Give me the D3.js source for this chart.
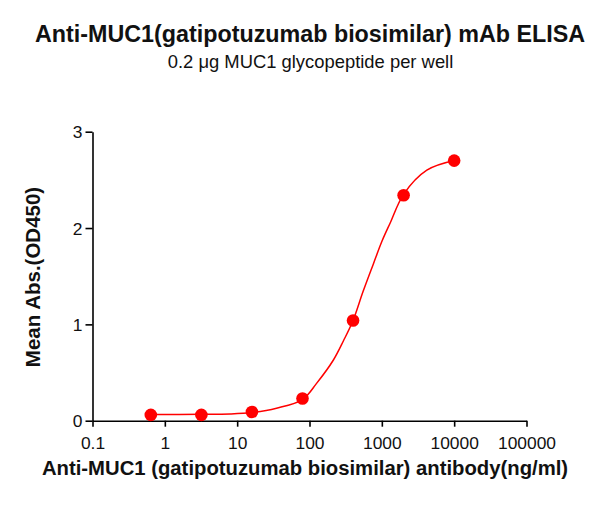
<!DOCTYPE html>
<html><head><meta charset="utf-8">
<script src="https://cdn.jsdelivr.net/npm/d3@7"></script>
<style>body{margin:0;background:#fff;} svg{display:block;} text{font-family:Arial,"Liberation Sans",sans-serif;}</style>
</head><body>
<svg id="c" width="608" height="505"></svg>
<script>
const concentrations = [0.64, 3.2, 16, 80, 400, 2000, 10000];
const meanAbs = [0.06, 0.06, 0.09, 0.23, 1.04, 2.34, 2.70];
// fitted curve
const curveX = [0.64, 3.2, 8, 16, 35, 80, 126, 214, 295, 400, 550, 766, 1000, 1300, 2000, 4190, 10000];
const curveY = [0.065, 0.066, 0.07, 0.085, 0.13, 0.22, 0.39, 0.63, 0.83, 1.04, 1.34, 1.63, 1.86, 2.05, 2.35, 2.60, 2.70];
const xTicks = [0.1, 1, 10, 100, 1000, 10000, 100000];
const xTickLabels = ["0.1", "1", "10", "100", "1000", "10000", "100000"];
const yTicks = [0, 1, 2, 3];

const svg = d3.select("#c");
const x = d3.scaleLog().domain([0.1, 100000]).range([92.5, 526.5]);
const y = d3.scaleLinear().domain([0, 3]).range([420.7, 131.7]);

// axes
const xa = svg.append("g").attr("transform", "translate(0,420.7)")
  .call(d3.axisBottom(x).tickValues(xTicks).tickFormat((d,i)=>xTickLabels[i]).tickSizeInner(6).tickSizeOuter(0).tickPadding(10));
const ya = svg.append("g").attr("transform", "translate(92.5,0)")
  .call(d3.axisLeft(y).tickValues(yTicks).tickFormat(d3.format("d")).tickSizeInner(7).tickSizeOuter(0).tickPadding(3));
[xa, ya].forEach(g => {
  g.select(".domain").attr("stroke", "#000").attr("stroke-width", 1.6);
  g.selectAll(".tick line").attr("stroke", "#000").attr("stroke-width", 1.6);
  g.selectAll(".tick text").attr("fill", "#111").style("font-size", "17.4px").style("font-family", "Arial, 'Liberation Sans', sans-serif");
});
ya.selectAll(".tick text").attr("dy", "0.36em");

// curve
const pts = curveX.map((c,i)=>[c, curveY[i]]);
svg.append("path").datum(pts)
  .attr("fill", "none").attr("stroke", "#ff0000").attr("stroke-width", 1.5)
  .attr("d", d3.line().x(d=>x(d[0])).y(d=>y(d[1])).curve(d3.curveCatmullRom.alpha(0.5)));

// points
svg.append("g").selectAll("circle").data(concentrations).join("circle")
  .attr("cx", d=>x(d)).attr("cy", (d,i)=>y(meanAbs[i])).attr("r", 6.3).attr("fill", "#ff0000");

// titles
svg.append("text").attr("x", 310).attr("y", 42).attr("text-anchor", "middle")
  .style("font-size", "23.3px").style("font-weight", "bold").attr("fill", "#111")
  .text("Anti-MUC1(gatipotuzumab biosimilar) mAb ELISA");
svg.append("text").attr("x", 310.5).attr("y", 68).attr("text-anchor", "middle")
  .style("font-size", "18.4px").attr("fill", "#111")
  .text("0.2 \u03bcg MUC1 glycopeptide per well");
svg.append("text").attr("x", 305).attr("y", 475).attr("text-anchor", "middle")
  .style("font-size", "20.3px").style("font-weight", "bold").attr("fill", "#111")
  .text("Anti-MUC1 (gatipotuzumab biosimilar) antibody(ng/ml)");
svg.append("text").attr("transform", "translate(40,277) rotate(-90)").attr("text-anchor", "middle")
  .style("font-size", "20.5px").style("font-weight", "bold").attr("fill", "#111")
  .text("Mean Abs.(OD450)");
</script>
</body></html>
